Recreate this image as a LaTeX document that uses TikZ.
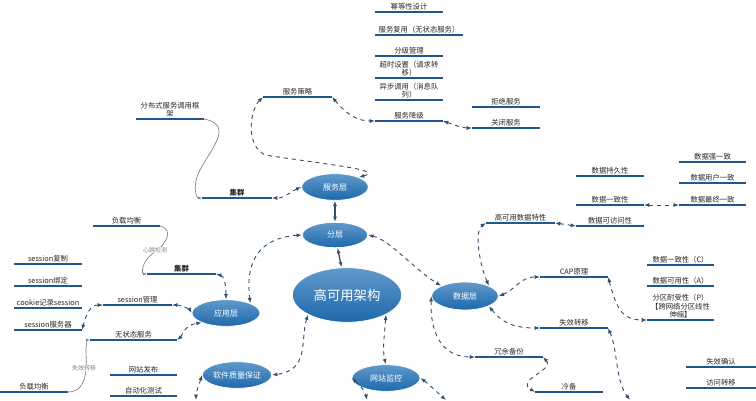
\documentclass[tikz,border=0pt]{standalone}
\usepackage{fontspec}
\setmainfont{Noto Sans CJK SC}
\usetikzlibrary{arrows.meta,shapes.geometric}
\definecolor{lblue}{RGB}{31,88,140}
\definecolor{eblue}{RGB}{30,110,180}
\definecolor{cblue}{RGB}{50,80,110}
\tikzset{
 uline/.style={draw=lblue,line width=1.6pt},
 ltxt/.style={font=\fontsize{5.5}{6.5}\selectfont,align=center,inner sep=1pt,text=black!85},
 ell/.style={ellipse,draw=white,line width=0.6pt,top color=eblue!70,bottom color=eblue!95!black,text=white,font=\fontsize{6}{7}\selectfont,inner sep=0pt},
 dcon/.style={draw=cblue,dashed,line width=0.7pt,{Latex[length=4pt]}-{Latex[length=4pt]}},
 scon/.style={draw=cblue,line width=1pt,{Latex[length=4pt]}-{Latex[length=4pt]}},
 gcon/.style={draw=gray,line width=0.5pt,-{Latex[length=3pt]}},
 glbl/.style={font=\fontsize{4.5}{5}\selectfont,text=gray,fill=white,inner sep=0.5pt}
}
\newcommand\ulab[5]{\draw[uline] (#2,#4) coordinate (#1l) -- (#3,#4) coordinate (#1r); \node[ltxt,anchor=south] (#1) at ({(#2+#3)/2},#4) {#5};}
\begin{document}
\begin{tikzpicture}[x=0.75pt,y=-0.75pt]
\useasboundingbox (0,0) rectangle (756,400);
% ellipses
\node[ell,minimum width=82pt,minimum height=41pt,font=\fontsize{10}{12}\selectfont] (core) at (347,295) {高可用架构};
\node[ell,minimum width=49pt,minimum height=19pt] (fc) at (335,235) {分层};
\node[ell,minimum width=50pt,minimum height=20pt] (fw) at (335,187) {服务层};
\node[ell,minimum width=51pt,minimum height=20pt] (yy) at (226,313) {应用层};
\node[ell,minimum width=50pt,minimum height=21pt] (sj) at (465,296) {数据层};
\node[ell,minimum width=52pt,minimum height=20pt] (rj) at (237,375) {软件质量保证};
\node[ell,minimum width=51pt,minimum height=20pt] (wz) at (386,378) {网站监控};
% labels
\ulab{a1}{375}{443}{12}{幂等性设计}
\ulab{a2}{375}{463}{35}{服务复用（无状态服务）}
\ulab{a3}{375}{443}{56}{分级管理}
\ulab{a4}{375}{443}{78}{超时设置（请求转\\移）}
\ulab{a5}{375}{443}{100}{异步调用（消息队\\列）}
\ulab{a6}{375}{443}{121}{服务降级}
\ulab{a7}{472}{540}{107}{拒绝服务}
\ulab{a8}{472}{540}{128}{关闭服务}
\ulab{b1}{263}{332}{97}{服务策略}
\ulab{b2}{136}{204}{119}{分布式服务调用框\\架}
\ulab{b3}{202}{272}{198}{\textbf{集群}}
\ulab{c1}{93}{160}{226}{负载均衡}
\ulab{c2}{147}{216}{274}{\textbf{集群}}
\ulab{c3}{14}{82}{264}{session复制}
\ulab{c4}{14}{82}{286}{session绑定}
\ulab{c5}{14}{82}{308}{cookie记录session}
\ulab{c6}{14}{82}{330}{session服务器}
\ulab{c7}{103}{172}{305}{session管理}
\ulab{c8}{90}{177}{340}{无状态服务}
\ulab{c9}{0}{68}{392}{负载均衡}
\ulab{d1}{110}{177}{375}{网站发布}
\ulab{d2}{110}{177}{396}{自动化测试}
\ulab{e1}{679}{746}{162}{数据强一致}
\ulab{e2}{679}{746}{183}{数据用户一致}
\ulab{e3}{679}{746}{205}{数据最终一致}
\ulab{e4}{576}{644}{176}{数据持久性}
\ulab{e5}{576}{644}{205}{数据一致性}
\ulab{e6}{576}{644}{226}{数据可访问性}
\ulab{e7}{486}{555}{223}{高可用数据特性}
\ulab{f1}{647}{714}{265}{数据一致性（C）}
\ulab{f2}{647}{714}{286}{数据可用性（A）}
\ulab{f3}{647}{714}{320}{分区耐受性（P）\\{}【跨网络分区线性\\伸缩】}
\ulab{f4}{540}{608}{277}{CAP原理}
\ulab{f5}{540}{608}{328}{失效转移}
\ulab{f6}{475}{543}{357}{冗余备份}
\ulab{f7}{535}{603}{392}{冷备}
\ulab{f8}{686}{756}{367}{失效确认}
\ulab{f9}{686}{756}{388}{访问转移}
% free ends
\coordinate (o1) at (630,400);
\coordinate (o2) at (196,400);
\coordinate (o3) at (367,400);
\coordinate (o4) at (446,400);
% solid connectors
\draw[scon] (fw) -- (fc);
\draw[scon] (fc) -- (core);
% dashed connectors
\draw[dcon] (fc.west) .. controls (260,238) and (245,260) .. (yy.north east);
\draw[dcon] (fc.east) .. controls (390,240) and (415,270) .. (sj.north west);
\draw[dcon] (core.south west) .. controls (300,340) and (310,370) .. (rj.east);
\draw[dcon] (core.south east) .. controls (385,330) and (382,350) .. (wz.north);
\draw[dcon] (fw.west) .. controls (290,192) and (285,198) .. (b3r);
\draw[dcon] (fw.north east) .. controls (385,170) and (330,165) .. (265,155) .. controls (245,145) and (250,110) .. (b1l);
\draw[dcon] (b1r) .. controls (345,112) and (355,121) .. (a6l);
\draw[dcon] (a6r) .. controls (455,125) and (462,128) .. (a8l);
\draw[dcon] (c2r) .. controls (224,276) and (226,285) .. (yy.north);
\draw[dcon] (c7r) .. controls (182,305) and (190,310) .. (yy.west);
\draw[dcon] (c8r) .. controls (182,336) and (184,325) .. (yy.south west);
\draw[dcon] (c7l) .. controls (90,305) and (86,315) .. (c6r);
\draw[dcon] (sj.north east) .. controls (478,260) and (475,230) .. (e7l);
\draw[dcon] (sj.east) .. controls (515,290) and (520,277) .. (f4l);
\draw[dcon] (sj.south east) .. controls (500,320) and (510,328) .. (f5l);
\draw[dcon] (sj.west) .. controls (430,330) and (440,357) .. (f6l);
\draw[dcon] (e7r) -- (e6l);
\draw[dcon] (e5r) -- (e3l);
\draw[dcon] (f4r) .. controls (616,305) and (620,320) .. (f3l);
\draw[dcon] (f5r) .. controls (618,350) and (615,380) .. (o1);
\draw[dcon] (f6r) .. controls (555,370) and (515,380) .. (f7l);
\draw[dcon] (rj.west) .. controls (200,382) and (196,392) .. (o2);
\draw[dcon] (wz.west) .. controls (365,390) and (366,395) .. (o3);
\draw[dcon] (wz.east) .. controls (430,385) and (440,395) .. (o4);
% gray solid connectors
\draw[gcon] (b2r) .. controls (235,125) and (210,150) .. (200,170) .. controls (192,185) and (196,198) .. (b3l);
\draw[gcon] (c1r) .. controls (175,230) and (165,245) .. (155,252) .. controls (140,262) and (142,274) .. (c2l);
\node[glbl] (hb) at (155,250) {心跳检测};
\draw[gcon] (c9r) .. controls (90,392) and (86,360) .. (86,350) .. controls (86,342) and (88,340) .. (c8l);
\node[glbl] (sx) at (84,368) {失效转移};
\end{tikzpicture}
\end{document}
